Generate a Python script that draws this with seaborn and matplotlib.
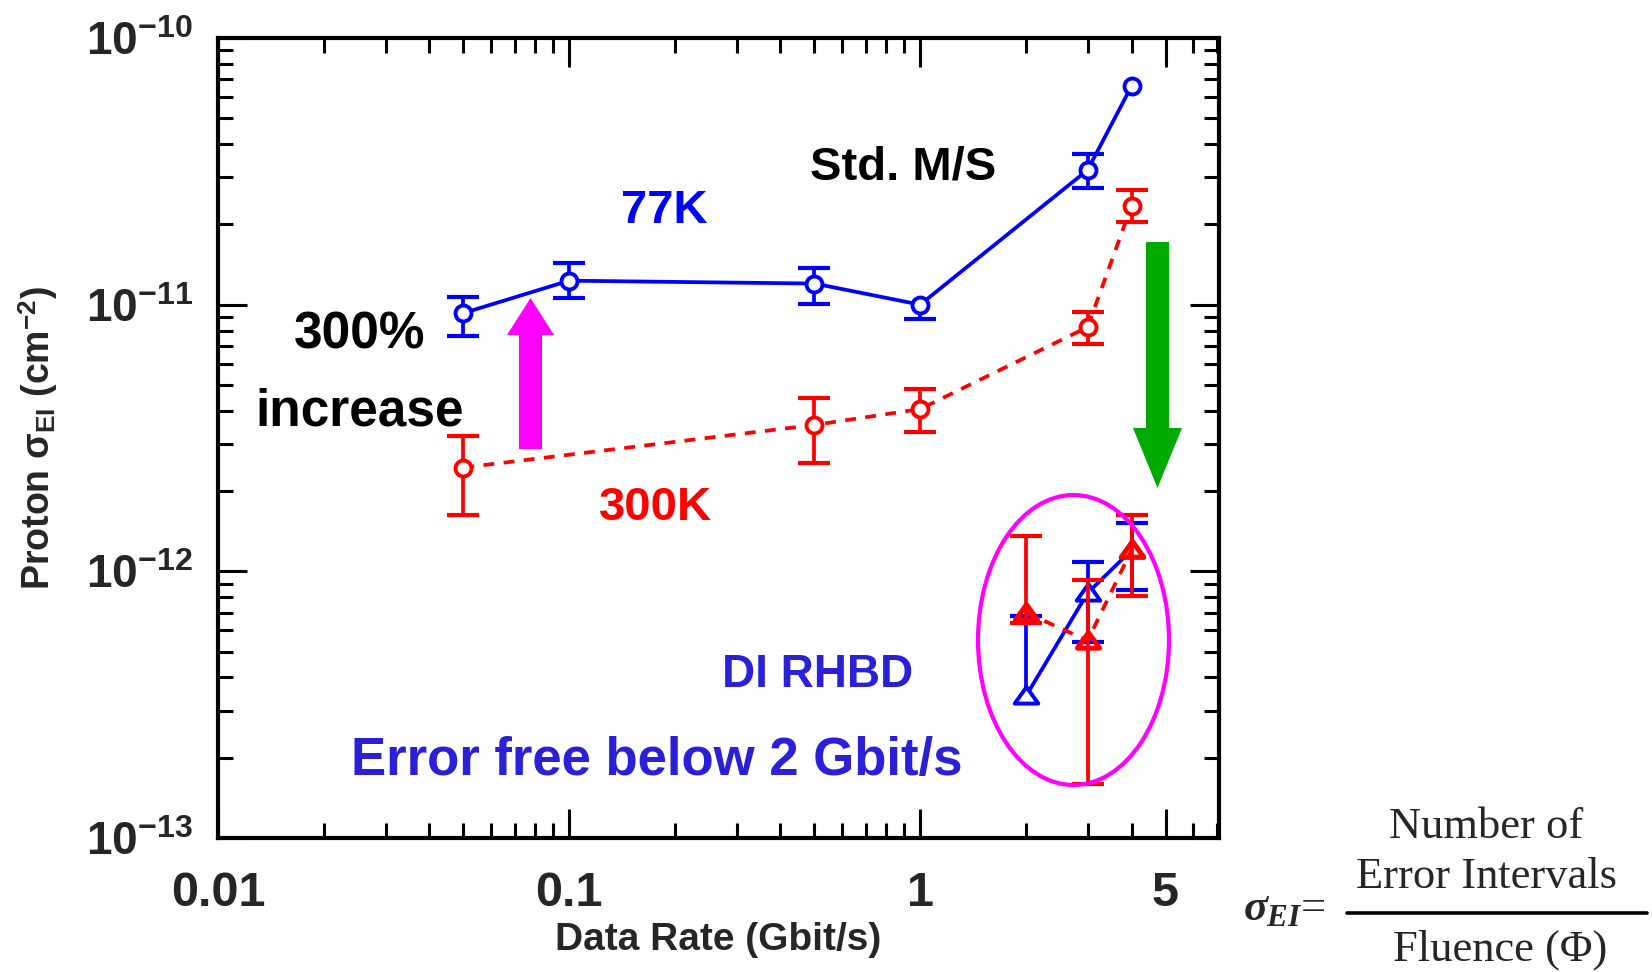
import numpy as np
import matplotlib
matplotlib.use("Agg")
import matplotlib.pyplot as plt
import matplotlib.patches as mpatches
from matplotlib.lines import Line2D
from matplotlib.path import Path
from matplotlib import font_manager as fm
from matplotlib.ticker import (FixedLocator, FixedFormatter, LogLocator,
                               LogFormatterSciNotation, NullFormatter)
import seaborn as sns

# ---- data: proton error-interval cross section vs data rate ----
rate_std_77k = [0.05, 0.1, 0.5, 1.0, 3.0, 4.0]
sigma_std_77k = [9.3e-12, 1.23e-11, 1.2e-11, 1.0e-11, 3.2e-11, 6.6e-11]
upper_std_77k = [1.07e-11, 1.43e-11, 1.37e-11, np.nan, 3.67e-11, np.nan]
lower_std_77k = [7.6e-12, 1.06e-11, 1.01e-11, 8.8e-12, 2.74e-11, np.nan]

rate_std_300k = [0.05, 0.5, 1.0, 3.0, 4.0]
sigma_std_300k = [2.45e-12, 3.54e-12, 4.06e-12, 8.24e-12, 2.35e-11]
upper_std_300k = [3.23e-12, 4.47e-12, 4.83e-12, 9.4e-12, 2.69e-11]
lower_std_300k = [1.63e-12, 2.55e-12, 3.32e-12, 7.13e-12, 2.04e-11]

rate_di = [2.0, 3.0, 4.0]
sigma_di_77k = [3.4e-13, 8.3e-13, 1.2e-12]
upper_di_77k = [6.8e-13, 1.08e-12, 1.52e-12]
lower_di_77k = [np.nan, 5.45e-13, 8.5e-13]

sigma_di_300k = [7.0e-13, 5.5e-13, 1.2e-12]
upper_di_300k = [1.36e-12, 9.3e-13, 1.63e-12]
lower_di_300k = [6.4e-13, 1.6e-13, 8.1e-13]

x_ticks = [0.01, 0.1, 1, 5]
x_tick_labels = ["0.01", "0.1", "1", "5"]
y_ticks = [1e-13, 1e-12, 1e-11, 1e-10]

BLUE = "#0000ff"
RED = "#ff0000"
TEXT_BLUE = "#2b1fd8"
MAGENTA = "#ff00ff"
GREEN = "#00aa00"

# ---- style ----
sns.set_theme(style="ticks")
available = {f.name for f in fm.fontManager.ttflist}
AXIS_FONT = "Liberation Sans Narrow" if "Liberation Sans Narrow" in available else "Liberation Sans"
plt.rcParams.update({
    "font.family": [AXIS_FONT, "DejaVu Sans"],
    "font.weight": "bold",
    "mathtext.fontset": "custom",
    "mathtext.rm": "Liberation Sans",
    "mathtext.it": "Liberation Serif:italic",
    "mathtext.bf": "Liberation Sans:bold",
    "axes.linewidth": 3.0,
    "axes.edgecolor": "black",
    "figure.facecolor": "white",
    "axes.facecolor": "white",
})

W, H = 1652, 972
fig = plt.figure(figsize=(W / 100, H / 100), dpi=100)
ax = fig.add_axes([218 / W, 1 - 838 / H, (1219 - 218) / W, (838 - 38) / H])
ax.set_xscale("log")
ax.set_yscale("log")


def fpx(x, y):
    """pixel position (from top-left) -> figure fraction"""
    return x / W, 1 - y / H


LW = 2.7


def error_bars(x, y, hi, lo, color, z):
    for xi, yi, h, l in zip(x, y, hi, lo):
        top = h if np.isfinite(h) else yi
        bot = l if np.isfinite(l) else yi
        ax.plot([xi, xi], [bot, top], color=color, lw=LW, zorder=z,
                solid_capstyle="butt")
        for v in (h, l):
            if np.isfinite(v):
                ax.plot([xi], [v], marker="_", ms=23, mew=3.0, color=color,
                        zorder=z)


tri = Path([(-1.0, -0.6), (1.0, -0.6), (0.0, 0.8), (-1.0, -0.6)],
           [Path.MOVETO, Path.LINETO, Path.LINETO, Path.CLOSEPOLY])
dash = (0, (2.9, 2.5))

# standard master/slave, 77 K
error_bars(rate_std_77k, sigma_std_77k, upper_std_77k, lower_std_77k, BLUE, 2)
sns.lineplot(x=rate_std_77k, y=sigma_std_77k, ax=ax, color=BLUE, lw=LW,
             marker="o", ms=11.5, mfc="white", mec=BLUE, mew=2.8,
             sort=False, errorbar=None, zorder=3)

# standard master/slave, 300 K
error_bars(rate_std_300k, sigma_std_300k, upper_std_300k, lower_std_300k, RED, 4)
sns.lineplot(x=rate_std_300k, y=sigma_std_300k, ax=ax, color=RED, lw=LW,
             linestyle=dash, marker="o", ms=11.5, mfc="white", mec=RED, mew=2.8,
             sort=False, errorbar=None, zorder=5)

# DI RHBD, 77 K
error_bars(rate_di, sigma_di_77k, upper_di_77k, lower_di_77k, BLUE, 6)
sns.lineplot(x=rate_di, y=sigma_di_77k, ax=ax, color=BLUE, lw=LW,
             marker=tri, ms=17, mfc="white", mec=BLUE, mew=2.8,
             sort=False, errorbar=None, zorder=7)

# DI RHBD, 300 K
error_bars(rate_di, sigma_di_300k, upper_di_300k, lower_di_300k, RED, 8)
sns.lineplot(x=rate_di, y=sigma_di_300k, ax=ax, color=RED, lw=LW,
             linestyle=dash, marker=tri, ms=16, mfc="none", mec=RED, mew=3.6,
             sort=False, errorbar=None, zorder=9)

# ---- axes ----
ax.set_xlim(0.01, 7.1)
ax.set_ylim(1e-13, 1e-10)
ax.xaxis.set_major_locator(FixedLocator(x_ticks))
ax.xaxis.set_major_formatter(FixedFormatter(x_tick_labels))
ax.xaxis.set_minor_locator(LogLocator(base=10, subs=np.arange(2, 10), numticks=30))
ax.xaxis.set_minor_formatter(NullFormatter())
ax.yaxis.set_major_locator(FixedLocator(y_ticks))
ax.yaxis.set_major_formatter(LogFormatterSciNotation())
ax.yaxis.set_minor_locator(LogLocator(base=10, subs=np.arange(2, 10), numticks=30))
ax.yaxis.set_minor_formatter(NullFormatter())

ax.tick_params(which="both", direction="in", top=True, right=True,
               width=2.2, color="black")
ax.tick_params(which="major", length=21)
ax.tick_params(which="minor", length=11)
ax.tick_params(axis="x", which="major", labelsize=35, pad=24)
ax.tick_params(axis="y", which="major", labelsize=33, pad=18)
for lab in ax.get_xticklabels() + ax.get_yticklabels():
    lab.set_fontweight("bold")

ax.set_xlabel("Data Rate (Gbit/s)", fontsize=28, fontweight="bold")
ax.xaxis.set_label_coords(0.5, (838 - 940) / 800)
ax.xaxis.label.set_va("center")
ax.set_ylabel(r"Proton $\mathrm{\sigma_{EI}}$ (cm$^{\mathregular{-2}}$)",
              fontsize=27, fontweight="bold")
ax.yaxis.set_label_coords((38 - 218) / 1001, 0.5)
ax.yaxis.label.set_va("center")
ax.yaxis.label.set_ha("center")
for s in ax.spines.values():
    s.set_linewidth(3.0)
    s.set_zorder(20)

# ---- annotations ----
ann = dict(family="Liberation Sans", weight="bold", ha="center", va="baseline")
fig.text(*fpx(903, 180), "Std. M/S", fontsize=34, color="black", **ann)
fig.text(*fpx(664, 223), "77K", fontsize=34, color=BLUE, **ann)
fig.text(*fpx(360, 348), "300%", fontsize=37, color="black", **ann)
fig.text(*fpx(360, 425), "increase", fontsize=37, color="black", **ann)
fig.text(*fpx(656, 520), "300K", fontsize=34, color=RED, **ann)
fig.text(*fpx(818, 687), "DI RHBD", fontsize=33, color=TEXT_BLUE, **ann)
fig.text(*fpx(657, 775), "Error free below 2 Gbit/s", fontsize=38,
         color=TEXT_BLUE, **ann)


def block_arrow(sx0, sx1, hx0, hx1, y_tail, y_base, y_tip, color):
    cx = (hx0 + hx1) / 2
    pts = [(sx0, y_tail), (sx0, y_base), (hx0, y_base), (cx, y_tip),
           (hx1, y_base), (sx1, y_base), (sx1, y_tail)]
    fig.patches.append(mpatches.Polygon([fpx(*p) for p in pts], closed=True,
                                        transform=fig.transFigure,
                                        facecolor=color, edgecolor="none",
                                        zorder=30))


block_arrow(519, 542, 507, 554, 449, 335, 298, MAGENTA)
block_arrow(1146, 1169, 1133, 1182, 242, 428, 488, GREEN)

ecx, ecy = fpx(1073.5, 640)
fig.patches.append(mpatches.Ellipse((ecx, ecy), 191 / W, 290 / H,
                                    transform=fig.transFigure, fill=False,
                                    edgecolor=MAGENTA, lw=3.0, zorder=31))

# ---- definition of the cross section ----
serif = dict(family="Liberation Serif", weight="normal", va="baseline")
fig.text(*fpx(1486, 838), "Number of", fontsize=32, ha="center", **serif)
fig.text(*fpx(1486, 888), "Error Intervals", fontsize=32, ha="center", **serif)
fig.text(*fpx(1500, 961), "Fluence (\u03a6)", fontsize=32, ha="center", **serif)
fig.text(*fpx(1284, 920), r"$\sigma_{EI}$=", fontsize=32, ha="center", **serif)
fig.add_artist(Line2D([1347 / W, 1647 / W], [1 - 913 / H, 1 - 913 / H],
                      transform=fig.transFigure, color="black", lw=2.6))

fig.savefig("out.png", dpi=100, facecolor="white")
